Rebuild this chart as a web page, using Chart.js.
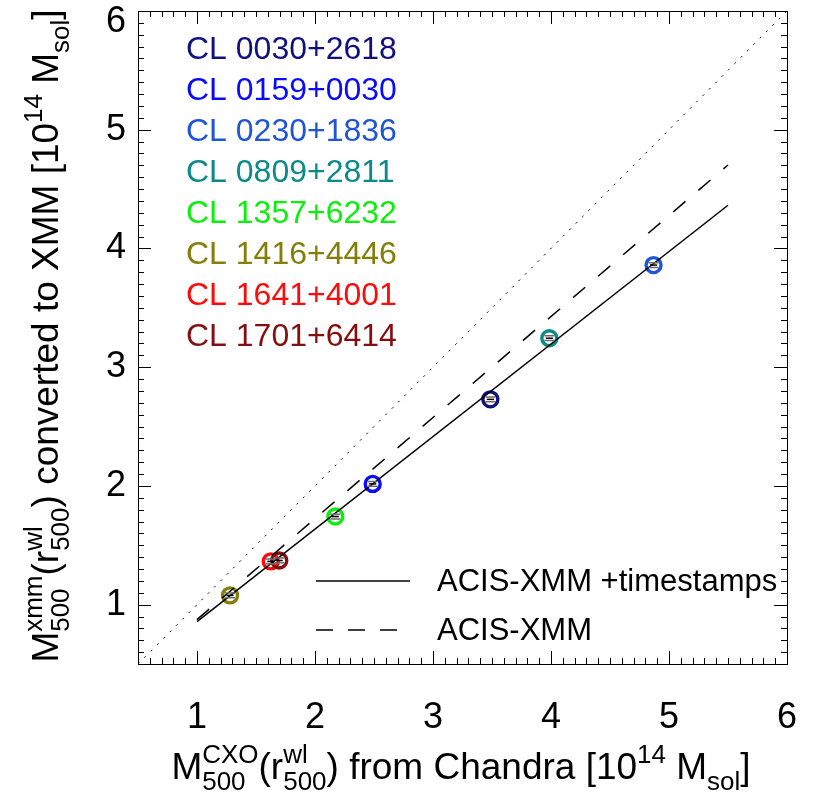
<!DOCTYPE html>
<html>
<head>
<meta charset="utf-8">
<script src="https://cdn.jsdelivr.net/npm/chart.js@4.4.0/dist/chart.umd.min.js"></script>
<style>
html, body { margin: 0; padding: 0; background: #fff; }
canvas { display: block; }
</style>
</head>
<body>
<canvas id="massChart" width="813" height="806"></canvas>
<script>
// Clusters, in the order of the colour list
var clusterNames = ['CL 0030+2618', 'CL 0159+0030', 'CL 0230+1836', 'CL 0809+2811',
                    'CL 1357+6232', 'CL 1416+4446', 'CL 1641+4001', 'CL 1701+6414'];
var clusterColors = ['#10107f', '#0a0aff', '#1f55d8', '#0a8a8a',
                     '#0af00a', '#857f0a', '#ff0a0a', '#850f0f'];

// Masses in 10^14 Msol
var chandraMass = [3.486, 2.489, 4.869, 3.986, 2.172, 1.280, 1.625, 1.697];
var xmmMass     = [2.729, 2.017, 3.860, 3.244, 1.742, 1.078, 1.364, 1.372];
var chandraErr  = [0.03, 0.03, 0.03, 0.03, 0.03, 0.03, 0.03, 0.03];
var xmmErr      = [0.02, 0.02, 0.02, 0.02, 0.02, 0.02, 0.02, 0.02];

// Relations
var fitX = [1.0, 5.5];
var fitWithTimestamps = [0.857, 4.364];
var fitWithoutTimestamps = [0.874, 4.703];
var identityX = [0.5, 6.0];
var lineLabels = ['ACIS-XMM +timestamps', 'ACIS-XMM'];

// Axes
var xTickValues = [1, 2, 3, 4, 5, 6];
var yTickValues = [1, 2, 3, 4, 5, 6];
var axisMin = 0.5;
var axisMax = 6.0;

var fontFamily = '"Liberation Sans", Arial, Helvetica, sans-serif';

var xTitle = ['M', {sup: 'CXO', sub: '500'}, '(r', {sup: 'wl', sub: '500'}, ') from Chandra [10', {sup: '14'}, ' M', {sub: 'sol'}, ']'];
var yTitle = ['M', {sup: 'xmm', sub: '500'}, '(r', {sup: 'wl', sub: '500'}, ') converted to XMM [10', {sup: '14'}, ' M', {sub: 'sol'}, ']'];

function pairs(xs, ys) {
    return xs.map(function (x, i) { return {x: x, y: ys[i]}; });
}

// Text with stacked super/subscripts, centred on cx
function drawRichText(ctx, parts, cx, baseY, mainSize, smallSize) {
    var mainFont = mainSize + 'px ' + fontFamily;
    var smallFont = smallSize + 'px ' + fontFamily;
    var widths = parts.map(function (p) {
        if (typeof p === 'string') {
            ctx.font = mainFont;
            return ctx.measureText(p).width;
        }
        ctx.font = smallFont;
        return Math.max(p.sup ? ctx.measureText(p.sup).width : 0,
                        p.sub ? ctx.measureText(p.sub).width : 0);
    });
    var total = widths.reduce(function (a, b) { return a + b; }, 0);
    var x = cx - total / 2;
    ctx.textAlign = 'left';
    ctx.textBaseline = 'alphabetic';
    parts.forEach(function (p, i) {
        if (typeof p === 'string') {
            ctx.font = mainFont;
            ctx.fillText(p, x, baseY);
        } else {
            ctx.font = smallFont;
            if (p.sup) ctx.fillText(p.sup, x, baseY - 16);
            if (p.sub) ctx.fillText(p.sub, x, baseY + 11);
        }
        x += widths[i];
    });
}

var decorPlugin = {
    id: 'decor',
    afterDatasetsDraw: function (chart) {
        var ctx = chart.ctx;
        var area = chart.chartArea;
        var xs = chart.scales.x;
        var ys = chart.scales.y;
        ctx.save();

        // error bars
        chandraMass.forEach(function (m, i) {
            var px = xs.getPixelForValue(m);
            var py = ys.getPixelForValue(xmmMass[i]);
            var top = ys.getPixelForValue(xmmMass[i] + xmmErr[i]);
            var bot = ys.getPixelForValue(xmmMass[i] - xmmErr[i]);
            ctx.strokeStyle = '#6a6a6a';
            ctx.lineWidth = 1.5;
            ctx.beginPath();
            ctx.moveTo(px - 5, top); ctx.lineTo(px + 5, top);
            ctx.moveTo(px - 5, bot); ctx.lineTo(px + 5, bot);
            ctx.stroke();
            ctx.strokeStyle = '#000';
            ctx.beginPath();
            ctx.moveTo(xs.getPixelForValue(m - chandraErr[i]), py);
            ctx.lineTo(xs.getPixelForValue(m + chandraErr[i]), py);
            ctx.stroke();
        });

        // box and inward ticks
        ctx.strokeStyle = '#000';
        ctx.lineWidth = 1;
        ctx.setLineDash([]);
        ctx.strokeRect(area.left + 0.5, area.top + 0.5, area.right - area.left, area.bottom - area.top);
        ctx.beginPath();
        for (var i = Math.round(axisMin * 10); i <= Math.round(axisMax * 10); i++) {
            var v = i / 10;
            var len = (i % 10 === 0) ? 13 : 6;
            var px = Math.round(xs.getPixelForValue(v)) + 0.5;
            ctx.moveTo(px, area.bottom); ctx.lineTo(px, area.bottom - len);
            ctx.moveTo(px, area.top); ctx.lineTo(px, area.top + len);
            var py = Math.round(ys.getPixelForValue(v)) + 0.5;
            ctx.moveTo(area.left, py); ctx.lineTo(area.left + len, py);
            ctx.moveTo(area.right, py); ctx.lineTo(area.right - len, py);
        }
        ctx.stroke();

        // y tick labels (kept inside the canvas at the top)
        ctx.fillStyle = '#000';
        ctx.font = '36px ' + fontFamily;
        ctx.textAlign = 'right';
        ctx.textBaseline = 'middle';
        yTickValues.forEach(function (v) {
            var py = Math.max(ys.getPixelForValue(v), 22);
            ctx.fillText(String(v), area.left - 12, py);
        });

        // cluster names
        ctx.font = '32px ' + fontFamily;
        ctx.textAlign = 'left';
        ctx.textBaseline = 'alphabetic';
        clusterNames.forEach(function (name, i) {
            ctx.fillStyle = clusterColors[i];
            ctx.fillText(name, 186, 59 + 41 * i);
        });

        // line legend
        ctx.fillStyle = '#000';
        ctx.lineWidth = 1.5;
        ctx.font = '31px ' + fontFamily;
        [[], [17, 15]].forEach(function (dash, i) {
            var y = 581 + 49 * i;
            ctx.setLineDash(dash);
            ctx.beginPath();
            ctx.moveTo(316, y); ctx.lineTo(410, y);
            ctx.stroke();
            ctx.textBaseline = 'middle';
            ctx.fillText(lineLabels[i], 437, y + 1);
        });
        ctx.setLineDash([]);

        // axis titles
        ctx.fillStyle = '#000';
        drawRichText(ctx, xTitle, 461, 779, 37, 26);
        ctx.translate(58, 336);
        ctx.rotate(-Math.PI / 2);
        drawRichText(ctx, yTitle, 0, 0, 37, 26);
        ctx.restore();
    }
};

var ctx = document.getElementById('massChart').getContext('2d');
var chart = new Chart(ctx, {
    type: 'scatter',
    data: {
        datasets: [{
            type: 'line',
            label: lineLabels[0],
            data: pairs(fitX, fitWithTimestamps),
            borderColor: '#000',
            borderWidth: 1.5,
            pointRadius: 0,
            fill: false
        }, {
            type: 'line',
            label: lineLabels[1],
            data: pairs(fitX, fitWithoutTimestamps),
            borderColor: '#000',
            borderWidth: 1.5,
            borderDash: [16, 17],
            pointRadius: 0,
            fill: false
        }, {
            type: 'line',
            label: '1:1',
            data: pairs(identityX, identityX),
            borderColor: '#000',
            borderWidth: 1,
            borderDash: [2, 7],
            pointRadius: 0,
            fill: false
        }, {
            label: 'clusters',
            data: pairs(chandraMass, xmmMass),
            pointStyle: 'circle',
            pointRadius: 7.5,
            pointBorderWidth: 3.4,
            pointBackgroundColor: 'rgba(0,0,0,0)',
            pointBorderColor: clusterColors
        }]
    },
    options: {
        responsive: false,
        animation: false,
        devicePixelRatio: 1,
        layout: {
            padding: {top: 11, right: 26, left: 0, bottom: 0}
        },
        plugins: {
            legend: {display: false},
            tooltip: {enabled: false}
        },
        scales: {
            x: {
                type: 'linear',
                min: axisMin,
                max: axisMax,
                afterBuildTicks: function (scale) {
                    scale.ticks = xTickValues.map(function (v) { return {value: v}; });
                },
                afterFit: function (scale) {
                    scale.height = 142;
                    scale.paddingLeft = 0;
                    scale.paddingRight = 0;
                },
                grid: {display: false, drawTicks: false},
                border: {display: false},
                ticks: {
                    color: '#000',
                    padding: 32,
                    maxRotation: 0,
                    font: {size: 36, family: fontFamily}
                }
            },
            y: {
                type: 'linear',
                min: axisMin,
                max: axisMax,
                afterBuildTicks: function (scale) {
                    scale.ticks = yTickValues.map(function (v) { return {value: v}; });
                },
                afterFit: function (scale) {
                    scale.width = 138;
                    scale.paddingTop = 0;
                    scale.paddingBottom = 0;
                },
                grid: {display: false, drawTicks: false},
                border: {display: false},
                ticks: {display: false}
            }
        }
    },
    plugins: [decorPlugin]
});
</script>
</body>
</html>
